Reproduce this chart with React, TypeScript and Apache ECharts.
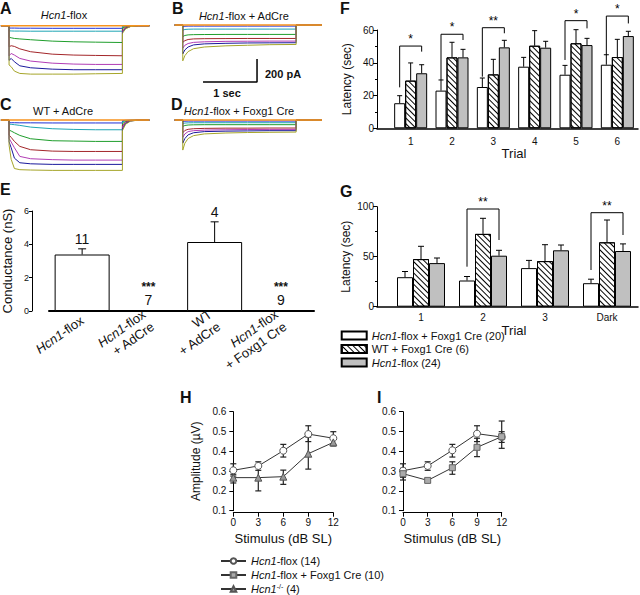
import React, { useEffect, useRef } from 'react';
import * as echarts from 'echarts';

const FONT = '"Liberation Sans", Arial, Helvetica, sans-serif';

// ---------- Panels A-D : current traces (time s, current pA) ----------
const traceTime = [-0.15, 0, 0.001, 0.04, 0.1, 0.2, 0.4, 0.8, 1.2, 1.6, 2.1, 2.101, 2.16, 2.25, 2.4, 2.6];
const traceColors = ['#f7931e', '#1f2fd6', '#1fa5b4', '#1f9e2c', '#a3262a', '#b23db5', '#1a1a9c', '#a6a52a'];
const tracesA = [
  [0, 0, 0, 0, 0, 0, 0, 0, 0, 0, 0, 0, 0, 0, 0, 0],
  [0, 0, -20, -20, -20, -21, -21, -22, -22, -22, -22, -5, -2, 0, 0, 0],
  [0, 0, -44, -45, -46, -46, -47, -47, -47, -47, -47, -10, -4, -1, 0, 0],
  [0, 0, -100, -104, -110, -114, -121, -133, -139, -142, -145, -20, -8, -2, 0, 0],
  [0, 0, -182, -173, -179, -200, -225, -246, -254, -257, -260, -35, -14, -4, 0, 0],
  [0, 0, -260, -240, -254, -283, -306, -324, -332, -335, -335, -45, -18, -5, 0, 0],
  [0, 0, -300, -283, -312, -347, -364, -376, -381, -381, -381, -55, -22, -6, 0, 0],
  [0, 0, -340, -355, -393, -413, -419, -419, -419, -416, -413, -65, -26, -7, 0, 0],
];
const tracesB = [
  [0, 0, 0, 0, 0, 0, 0, 0, 0, 0, 0, 0, 0, 0, 0, 0],
  [0, 0, -15, -10, -9, -9, -9, -9, -9, -9, -9, 0, 0, 0, 0, 0],
  [0, 0, -45, -38, -36, -35, -35, -35, -35, -35, -35, 0, 0, 0, 0, 0],
  [0, 0, -100, -90, -85, -83, -82, -81, -81, -81, -81, 0, 0, 0, 0, 0],
  [0, 0, -150, -135, -125, -120, -118, -117, -116, -116, -116, 0, 0, 0, 0, 0],
  [0, 0, -200, -175, -160, -150, -145, -141, -140, -139, -139, 0, 0, 0, 0, 0],
  [0, 0, -250, -215, -190, -172, -163, -158, -155, -154, -153, 0, 0, 0, 0, 0],
  [0, 0, -310, -265, -230, -205, -190, -180, -175, -170, -168, 0, 0, 0, 0, 0],
];
const tracesC = [
  [0, 0, 0, 0, 0, 0, 0, 0, 0, 0, 0, 0, 0, 0, 0, 0],
  [0, 0, -23, -23, -23, -24, -24, -25, -25, -25, -25, -5, -2, 0, 0, 0],
  [0, 0, -35, -37, -40, -46, -61, -75, -81, -84, -84, -15, -6, -2, 0, 0],
  [0, 0, -87, -95, -110, -133, -162, -179, -182, -185, -185, -30, -12, -3, 0, 0],
  [0, 0, -130, -150, -185, -228, -257, -269, -272, -272, -272, -45, -18, -5, 0, 0],
  [0, 0, -159, -190, -240, -315, -335, -343, -347, -347, -347, -60, -24, -6, 0, 0],
  [0, 0, -188, -240, -330, -370, -379, -384, -384, -384, -384, -75, -30, -8, 0, 0],
  [0, 0, -217, -340, -420, -430, -433, -436, -436, -436, -436, -90, -36, -9, 0, 0],
];
const tracesD = [
  [0, 0, 0, 0, 0, 0, 0, 0, 0, 0, 0, 0, 0, 0, 0, 0],
  [0, 0, -12, -10, -9, -9, -9, -9, -9, -9, -9, 0, 0, 0, 0, 0],
  [0, 0, -30, -26, -24, -23, -23, -23, -23, -23, -23, 0, 0, 0, 0, 0],
  [0, 0, -55, -47, -43, -41, -40, -40, -40, -40, -40, 0, 0, 0, 0, 0],
  [0, 0, -110, -90, -80, -75, -72, -70, -70, -69, -69, 0, 0, 0, 0, 0],
  [0, 0, -150, -120, -100, -92, -87, -84, -82, -81, -81, 0, 0, 0, 0, 0],
  [0, 0, -200, -160, -128, -110, -100, -96, -94, -92, -92, 0, 0, 0, 0, 0],
  [0, 0, -260, -200, -160, -135, -120, -112, -108, -106, -104, 0, 0, 0, 0, 0],
];
// scale bar: 1 sec x 200 pA
const scaleBarT = [0.376, 1.376, 1.376];
const scaleBarI = [-494, -494, -294];

// ---------- Panel E ----------
const eCats = ['Hcn1-flox', 'Hcn1-flox\n+ AdCre', 'WT\n+ AdCre', 'Hcn1-flox\n+ Foxg1 Cre'];
const eMean = [3.39, 0.04, 4.14, 0.04];
const eErr = [3.73, 0.04, 5.35, 0.04];
const eN = ['11', '7', '4', '9'];
const eSig = ['', '***', '', '***'];

// ---------- Panel F ----------
const fCats = ['1', '2', '3', '4', '5', '6'];
const fFoxg1 = [15.3, 23.0, 25.2, 37.6, 32.7, 38.8];
const fFoxg1Err = [19.9, 29.5, 30.7, 43.3, 38.4, 44.9];
const fWT = [29.1, 43.3, 32.9, 50.4, 51.9, 43.5];
const fWTErr = [39.9, 52.5, 42.1, 59.6, 60.2, 54.3];
const fFlox = [33.6, 43.3, 49.4, 49.2, 50.8, 56.3];
const fFloxErr = [38.8, 48.2, 53.7, 53.1, 54.9, 59.2];
const fSigCat = [0, 1, 2, 4, 5];
const fSigTop = [50.2, 57.4, 61.4, 65.7, 68.5];
const fSigLeft = [25, 29.5, 31.5, 41.7, 44.7];
const fSigRight = [46.8, 53.9, 58, 61, 64];
const fSigText = ['*', '*', '**', '*', '*'];

// ---------- Panel G ----------
const gCats = ['1', '2', '3', 'Dark'];
const gFoxg1 = [29.5, 26.2, 38.6, 23.5];
const gFoxg1Err = [35.2, 30.2, 46.3, 27.5];
const gWT = [47.6, 72.8, 45.6, 64.4];
const gWTErr = [60.4, 88.4, 62, 86.7];
const gFlox = [43.6, 51, 56.4, 55.7];
const gFloxErr = [48.7, 56.4, 61.7, 62.8];
const gSigCat = [1, 3];
const gSigTop = [97.7, 94];
const gSigLeft = [40, 36.7];
const gSigRight = [66.7, 71.7];
const gSigText = ['**', '**'];

// ---------- Panels H, I ----------
const ampX = [0, 3, 6, 9, 12];
const hFlox = [0.304, 0.326, 0.403, 0.487, 0.466];
const hFloxHi = [0.337, 0.347, 0.435, 0.529, 0.499];
const hFloxLo = [0.275, 0.304, 0.371, 0.449, 0.435];
const hKO = [0.267, 0.267, 0.272, 0.388, 0.445];
const hKOHi = [0.284, 0.322, 0.305, 0.472, 0.46];
const hKOLo = [0.24, 0.2, 0.233, 0.31, 0.427];
const iFlox = [0.302, 0.326, 0.405, 0.489, 0.472];
const iFloxHi = [0.337, 0.347, 0.435, 0.529, 0.553];
const iFloxLo = [0.269, 0.304, 0.371, 0.449, 0.415];
const iFoxg1 = [0.287, 0.253, 0.317, 0.42, 0.474];
const iFoxg1Hi = [0.314, 0.263, 0.347, 0.466, 0.499];
const iFoxg1Lo = [0.255, 0.243, 0.284, 0.373, 0.445];

const barNames = ['Hcn1-flox + Foxg1 Cre (20)', 'WT + Foxg1 Cre (6)', 'Hcn1-flox (24)'];
const lineNames = ['Hcn1-flox (14)', 'Hcn1-flox + Foxg1 Cre (10)', 'Hcn1-/- (4)'];

const BLACK = '#111';
const italicRich = (size: number) => ({
  i: { fontStyle: 'italic', fontSize: size, fontFamily: FONT, color: BLACK },
  s: { fontSize: Math.round(size * 0.65), fontFamily: FONT, color: BLACK, verticalAlign: 'top' },
});
const fmtName = (name: string) =>
  name.replace(/Hcn1(-\/-)?/g, (_m: string, sup: string) => '{i|Hcn1}' + (sup ? '{s|' + sup + '}' : ''));

const hatch = {
  symbol: 'rect',
  symbolSize: 1,
  dashArrayX: [1, 0],
  dashArrayY: [1, 3],
  rotation: Math.PI / 4,
  color: '#000',
};
const barStyles = [
  { color: '#fff', borderColor: '#000', borderWidth: 1 },
  { color: '#fff', borderColor: '#000', borderWidth: 1, decal: hatch },
  { color: '#c0c0c0', borderColor: '#000', borderWidth: 1 },
];

function barErrRender(barW: number, cap: number) {
  return (_params: any, api: any) => {
    const cat = api.value(0);
    const k = api.value(1);
    const top = api.coord([cat, api.value(2)]);
    const end = api.coord([cat, api.value(3)]);
    const x = top[0] + (k - 1) * barW;
    const st = { stroke: '#000', lineWidth: 1 };
    if (Math.abs(end[1] - top[1]) < 0.5) return { type: 'group', children: [] };
    return {
      type: 'group',
      children: [
        { type: 'line', shape: { x1: x, y1: top[1], x2: x, y2: end[1] }, style: st },
        { type: 'line', shape: { x1: x - cap, y1: end[1], x2: x + cap, y2: end[1] }, style: st },
      ],
    };
  };
}

function bracketRender(barW: number, texts: string[]) {
  return (params: any, api: any) => {
    const cat = api.value(0);
    const top = api.coord([cat, api.value(1)]);
    const l = api.coord([cat, api.value(2)]);
    const r = api.coord([cat, api.value(3)]);
    const xl = top[0] - barW;
    const xr = top[0] + barW;
    return {
      type: 'group',
      children: [
        {
          type: 'polyline',
          shape: { points: [[xl, l[1]], [xl, top[1]], [xr, top[1]], [xr, r[1]]] },
          style: { stroke: '#000', fill: null, lineWidth: 1 },
        },
        {
          type: 'text',
          x: (xl + xr) / 2,
          y: top[1] - 1,
          style: {
            text: texts[params.dataIndex],
            fontSize: 12,
            fontFamily: FONT,
            fill: '#000',
            align: 'center',
            verticalAlign: 'bottom',
          },
        },
      ],
    };
  };
}

function rangeErrRender(cap: number) {
  return (_params: any, api: any) => {
    const x = api.value(0);
    const lo = api.coord([x, api.value(1)]);
    const hi = api.coord([x, api.value(2)]);
    const st = { stroke: '#222', lineWidth: 1.2 };
    return {
      type: 'group',
      children: [
        { type: 'line', shape: { x1: lo[0], y1: lo[1], x2: hi[0], y2: hi[1] }, style: st },
        { type: 'line', shape: { x1: lo[0] - cap, y1: lo[1], x2: lo[0] + cap, y2: lo[1] }, style: st },
        { type: 'line', shape: { x1: hi[0] - cap, y1: hi[1], x2: hi[0] + cap, y2: hi[1] }, style: st },
      ],
    };
  };
}

function buildOption() {
  const grid: any[] = [
    { left: 0, top: 20, width: 150, height: 60 },
    { left: 173.7, top: 19.3, width: 147, height: 60 },
    { left: 0, top: 114.3, width: 150, height: 60 },
    { left: 173.7, top: 114.3, width: 147, height: 60 },
    { left: 49, top: 211, width: 265, height: 100 },
    { left: 390, top: 30, width: 248, height: 98.3 },
    { left: 377, top: 30, width: 261, height: 98.3 },
    { left: 390, top: 206.7, width: 248, height: 100 },
    { left: 377, top: 206.7, width: 261, height: 100 },
    { left: 233.3, top: 411.7, width: 100, height: 99 },
    { left: 403, top: 411.7, width: 98.7, height: 99 },
  ];

  const axisLine = { show: true, lineStyle: { color: '#000', width: 1 } };
  const tick = (len: number) => ({ show: true, length: len, lineStyle: { color: '#000' } });
  const label = (size: number, margin: number, extra: any = {}) => ({
    fontSize: size, color: BLACK, fontFamily: FONT, margin, ...extra,
  });
  const nameStyle = (size: number) => ({ fontSize: size, color: BLACK, fontFamily: FONT });

  const xAxis: any[] = [
    { type: 'value', gridIndex: 0, min: -0.167, max: 2.611, show: false },
    { type: 'value', gridIndex: 1, min: -0.167, max: 2.555, show: false },
    { type: 'value', gridIndex: 2, min: -0.167, max: 2.611, show: false },
    { type: 'value', gridIndex: 3, min: -0.167, max: 2.555, show: false },
    {
      type: 'category', gridIndex: 4, data: eCats,
      axisLine: { show: true, lineStyle: { color: '#000', width: 2 } },
      axisTick: { show: false },
      axisLabel: label(13, 8, {
        rotate: 35, interval: 0, lineHeight: 15,
        formatter: (v: string) => v.replace(/Hcn1/g, '{i|Hcn1}'),
        rich: italicRich(13),
      }),
    },
    {
      type: 'category', gridIndex: 5, data: fCats,
      axisLine: { show: false }, axisTick: { show: false },
      axisLabel: label(10, 8),
      name: 'Trial', nameLocation: 'middle', nameGap: 15, nameTextStyle: nameStyle(13),
    },
    {
      type: 'value', gridIndex: 6, min: 0, max: 1,
      axisLine: { show: true, lineStyle: { color: '#000', width: 1.5 } },
      axisTick: { show: false }, axisLabel: { show: false }, splitLine: { show: false },
    },
    {
      type: 'category', gridIndex: 7, data: gCats,
      axisLine: { show: false }, axisTick: { show: false },
      axisLabel: label(10, 6),
      name: 'Trial', nameLocation: 'middle', nameGap: 13, nameTextStyle: nameStyle(13),
    },
    {
      type: 'value', gridIndex: 8, min: 0, max: 1,
      axisLine: { show: true, lineStyle: { color: '#000', width: 1.5 } },
      axisTick: { show: false }, axisLabel: { show: false }, splitLine: { show: false },
    },
    {
      type: 'value', gridIndex: 9, min: 0, max: 12, interval: 3, offset: 2,
      axisLine, axisTick: tick(4), axisLabel: label(10, 5), splitLine: { show: false },
      name: 'Stimulus (dB SL)', nameLocation: 'middle', nameGap: 19, nameTextStyle: nameStyle(13),
    },
    {
      type: 'value', gridIndex: 10, min: 0, max: 12, interval: 3, offset: 2,
      axisLine, axisTick: tick(4), axisLabel: label(10, 5), splitLine: { show: false },
      name: 'Stimulus (dB SL)', nameLocation: 'middle', nameGap: 19, nameTextStyle: nameStyle(13),
    },
  ];

  const yAxis: any[] = [
    { type: 'value', gridIndex: 0, min: -470, max: 50, show: false },
    { type: 'value', gridIndex: 1, min: -470, max: 50, show: false },
    { type: 'value', gridIndex: 2, min: -470, max: 50, show: false },
    { type: 'value', gridIndex: 3, min: -470, max: 50, show: false },
    {
      type: 'value', gridIndex: 4, min: 0, max: 6, interval: 2, offset: 17,
      axisLine, axisTick: tick(3), axisLabel: label(9, 3), splitLine: { show: false },
      name: 'Conductance (nS)', nameLocation: 'middle', nameGap: 18, nameTextStyle: nameStyle(13),
    },
    {
      type: 'value', gridIndex: 5, min: 0, max: 60, interval: 20, offset: 13,
      axisLine, axisTick: tick(4), minorTick: { show: true, splitNumber: 2, length: 2, lineStyle: { color: '#000' } },
      axisLabel: label(10, 3), splitLine: { show: false },
      name: 'Latency (sec)', nameLocation: 'middle', nameGap: 24, nameTextStyle: nameStyle(12),
    },
    { type: 'value', gridIndex: 6, min: 0, max: 1, show: false },
    {
      type: 'value', gridIndex: 7, min: 0, max: 100, interval: 50, offset: 13,
      axisLine, axisTick: tick(4), minorTick: { show: true, splitNumber: 2, length: 2, lineStyle: { color: '#000' } },
      axisLabel: label(10, 3), splitLine: { show: false },
      name: 'Latency (sec)', nameLocation: 'middle', nameGap: 25, nameTextStyle: nameStyle(12),
    },
    { type: 'value', gridIndex: 8, min: 0, max: 1, show: false },
    {
      type: 'value', gridIndex: 9, min: 0.1, max: 0.6, interval: 0.1, offset: 4,
      axisLine, axisTick: tick(4), splitLine: { show: false },
      axisLabel: label(10, 3, { formatter: (v: number) => v.toFixed(1) }),
      name: 'Amplitude (\u00b5V)', nameLocation: 'middle', nameGap: 27, nameTextStyle: nameStyle(12),
    },
    {
      type: 'value', gridIndex: 10, min: 0.1, max: 0.6, interval: 0.1, offset: 4,
      axisLine, axisTick: tick(4), splitLine: { show: false },
      axisLabel: label(10, 3, { formatter: (v: number) => v.toFixed(1) }),
    },
  ];

  const series: any[] = [];

  // traces
  [tracesA, tracesB, tracesC, tracesD].forEach((traces, p) => {
    [1, 2, 3, 4, 5, 6, 7, 0].forEach((i) => {
      series.push({
        type: 'line', xAxisIndex: p, yAxisIndex: p,
        data: traceTime.map((t, j) => [t, traces[i][j]]),
        showSymbol: false, symbol: 'none', silent: true, clip: false,
        lineStyle: { color: traceColors[i], width: i === 0 ? 1.5 : 1 }, z: 2,
      });
    });
  });
  series.push({
    type: 'line', xAxisIndex: 1, yAxisIndex: 1, clip: false, silent: true,
    data: scaleBarT.map((t, j) => [t, scaleBarI[j]]),
    showSymbol: false, symbol: 'none', lineStyle: { color: '#000', width: 1.5 },
  });

  // E
  series.push({
    type: 'bar', xAxisIndex: 4, yAxisIndex: 4, data: eMean, barWidth: 55,
    itemStyle: { color: '#fff', borderColor: '#000', borderWidth: 1 }, silent: true,
  });
  series.push({
    type: 'custom', xAxisIndex: 4, yAxisIndex: 4, silent: true, z: 3,
    encode: { x: 0, y: [2, 3] },
    data: eMean.map((v, i) => [i, 1, v, eErr[i]]),
    renderItem: barErrRender(0, 4),
  });
  series.push({
    type: 'custom', xAxisIndex: 4, yAxisIndex: 4, silent: true, z: 3,
    encode: { x: 0, y: 1 },
    data: eErr.map((v, i) => [i, v]),
    renderItem: (params: any, api: any) => {
      const i = params.dataIndex;
      const p = api.coord([api.value(0), api.value(1)]);
      return {
        type: 'group',
        children: [
          {
            type: 'text', x: p[0], y: p[1] - 3,
            style: { text: eN[i], fontSize: 14, fontFamily: FONT, fill: BLACK, align: 'center', verticalAlign: 'bottom' },
          },
          {
            type: 'text', x: p[0], y: p[1] - 17.5,
            style: { text: eSig[i], fontSize: 12, fontWeight: 'bold', fontFamily: FONT, fill: BLACK, align: 'center', verticalAlign: 'bottom' },
          },
        ],
      };
    },
  });

  // F and G
  const groups = [
    { x: 5, y: 5, bw: 11, cap: 2.5, means: [fFoxg1, fWT, fFlox], errs: [fFoxg1Err, fWTErr, fFloxErr],
      sc: fSigCat, st: fSigTop, sl: fSigLeft, sr: fSigRight, tx: fSigText },
    { x: 7, y: 7, bw: 16, cap: 3, means: [gFoxg1, gWT, gFlox], errs: [gFoxg1Err, gWTErr, gFloxErr],
      sc: gSigCat, st: gSigTop, sl: gSigLeft, sr: gSigRight, tx: gSigText },
  ];
  groups.forEach((g) => {
    g.means.forEach((m, k) => {
      series.push({
        type: 'bar', name: barNames[k], xAxisIndex: g.x, yAxisIndex: g.y, data: m,
        barWidth: g.bw, barGap: '0%', itemStyle: barStyles[k], silent: true,
      });
    });
    const errData: number[][] = [];
    g.means.forEach((m, k) => m.forEach((v, i) => errData.push([i, k, v, g.errs[k][i]])));
    series.push({
      type: 'custom', xAxisIndex: g.x, yAxisIndex: g.y, silent: true, z: 3,
      encode: { x: 0, y: [2, 3] }, data: errData, renderItem: barErrRender(g.bw, g.cap),
    });
    series.push({
      type: 'custom', xAxisIndex: g.x, yAxisIndex: g.y, silent: true, z: 3,
      encode: { x: 0, y: [1, 2, 3] },
      data: g.sc.map((c, i) => [c, g.st[i], g.sl[i], g.sr[i]]),
      renderItem: bracketRender(g.bw, g.tx),
    });
  });

  // H and I
  const sym = [
    { symbol: 'circle', symbolSize: 7, itemStyle: { color: '#fff', borderColor: '#555', borderWidth: 1 } },
    { symbol: 'rect', symbolSize: 6, itemStyle: { color: '#aaa', borderColor: '#666', borderWidth: 1 } },
    { symbol: 'triangle', symbolSize: 7, itemStyle: { color: '#999', borderColor: '#555', borderWidth: 1 } },
  ];
  const amp = [
    { ax: 9, s: 0, v: hFlox, lo: hFloxLo, hi: hFloxHi },
    { ax: 9, s: 2, v: hKO, lo: hKOLo, hi: hKOHi },
    { ax: 10, s: 0, v: iFlox, lo: iFloxLo, hi: iFloxHi },
    { ax: 10, s: 1, v: iFoxg1, lo: iFoxg1Lo, hi: iFoxg1Hi },
  ];
  amp.forEach((a) => {
    series.push({
      type: 'custom', xAxisIndex: a.ax, yAxisIndex: a.ax, silent: true, z: 3,
      encode: { x: 0, y: [1, 2] },
      data: ampX.map((x, i) => [x, a.lo[i], a.hi[i]]),
      renderItem: rangeErrRender(3),
    });
    series.push({
      type: 'line', name: lineNames[a.s], xAxisIndex: a.ax, yAxisIndex: a.ax,
      data: ampX.map((x, i) => [x, a.v[i]]), showSymbol: true, silent: true, z: 4,
      ...sym[a.s], lineStyle: { color: '#333', width: 1 },
    });
  });

  const legendText = {
    fontSize: 11, color: BLACK, fontFamily: FONT, lineHeight: 13, rich: italicRich(11),
  };

  const legend: any[] = [
    {
      orient: 'vertical', left: 340.7, top: 329, itemWidth: 25, itemHeight: 8, itemGap: 0.5,
      icon: 'rect', padding: 0, selectedMode: false, data: barNames,
      formatter: fmtName, textStyle: legendText,
    },
  ];
  const lineLegendTops = [554.5, 568.5, 582.5];
  lineNames.forEach((n, i) => {
    legend.push({
      orient: 'vertical', left: 220, top: lineLegendTops[i], itemWidth: 25, itemHeight: 7,
      padding: 0, selectedMode: false, data: [n],
      formatter: fmtName, textStyle: legendText,
    });
  });

  const t = (text: string, x: number, y: number, size: number, opts: any = {}) => ({
    type: 'text', x, y, silent: true,
    style: {
      text, fontSize: size, fontFamily: FONT, fill: BLACK,
      align: opts.align || 'left', verticalAlign: opts.va || 'top',
      textAlign: opts.align || 'left', textVerticalAlign: opts.va || 'top',
      fontWeight: opts.bold ? 'bold' : 'normal', rich: italicRich(size),
    },
  });

  const graphic = [
    t('A', 0, 0, 16, { bold: true }),
    t('B', 172, 0, 16, { bold: true }),
    t('C', 0, 96, 16, { bold: true }),
    t('D', 171, 96, 16, { bold: true }),
    t('E', 0, 181, 16, { bold: true }),
    t('F', 340, 0, 16, { bold: true }),
    t('G', 340, 183, 16, { bold: true }),
    t('H', 180, 389, 16, { bold: true }),
    t('I', 377, 389, 16, { bold: true }),
    t('{i|Hcn1}-flox', 64, 15, 11, { align: 'center', va: 'middle' }),
    t('{i|Hcn1}-flox + AdCre', 244, 15.5, 11, { align: 'center', va: 'middle' }),
    t('WT + AdCre', 63, 111, 11, { align: 'center', va: 'middle' }),
    t('{i|Hcn1}-flox + Foxg1 Cre', 239, 110.5, 11, { align: 'center', va: 'middle' }),
    t('200 pA', 265, 74, 11, { va: 'middle', bold: true }),
    t('1 sec', 227, 93, 11, { align: 'center', va: 'middle', bold: true }),
  ];

  return {
    animation: false,
    backgroundColor: '#fff',
    textStyle: { fontFamily: FONT },
    grid, xAxis, yAxis, series, legend, graphic,
  };
}

export default function App() {
  const ref = useRef<HTMLDivElement>(null);
  useEffect(() => {
    const chart = echarts.init(ref.current as HTMLDivElement, null, { renderer: 'svg' });
    chart.setOption(buildOption() as any);
    return () => chart.dispose();
  }, []);
  return (
    <div
      ref={ref}
      style={{ position: 'absolute', left: 0, top: 0, width: 640, height: 595, background: '#fff' }}
    />
  );
}
